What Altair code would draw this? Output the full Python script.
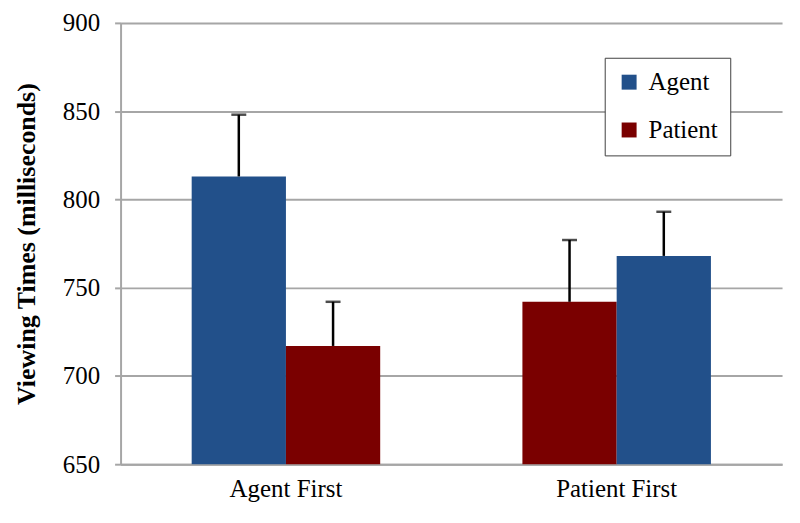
import altair as alt
import pandas as pd

groups = ["Agent First", "Agent First", "Patient First", "Patient First"]
conditions = ["Agent", "Patient", "Patient", "Agent"]
positions = [0, 1, 0, 1]
means = [813, 717, 742, 768]
uppers = [848, 742, 777, 793]
y_ticks = [650, 700, 750, 800, 850, 900]

df = pd.DataFrame({
    "group": groups,
    "cond": conditions,
    "pos": positions,
    "mean": means,
    "upper": uppers,
})

FONT = "Liberation Serif"
GRAY = "#a6a6a6"
FS = 25

x = alt.X("group:N", title=None, sort=["Agent First", "Patient First"],
          scale=alt.Scale(paddingInner=0.43, paddingOuter=0.215),
          axis=alt.Axis(labelAngle=0, ticks=False, labelFont=FONT, labelFontSize=FS))
xoff = alt.XOffset("pos:O", scale=alt.Scale(paddingInner=0, paddingOuter=0))
yscale = alt.Scale(domain=[650, 900], zero=False, nice=False)
yaxis = alt.Axis(values=y_ticks, title="Viewing Times (milliseconds)",
                 labelFont=FONT, labelFontSize=FS)

bars = alt.Chart(df).mark_bar(stroke=None, clip=True).encode(
    x=x,
    xOffset=xoff,
    y=alt.Y("mean:Q", scale=yscale, axis=yaxis),
    color=alt.Color("cond:N", title=None,
                    scale=alt.Scale(domain=["Agent", "Patient"], range=["#22508a", "#7a0000"]),
                    legend=alt.Legend(orient="none", legendX=486, legendY=35,
                                      labelFont=FONT, labelFontSize=FS)),
)

err = alt.Chart(df).mark_rule(color="black", strokeWidth=2.5).encode(
    x=x, xOffset=xoff,
    y=alt.Y("mean:Q", scale=yscale, axis=yaxis),
    y2="upper:Q",
)
caps = alt.Chart(df).mark_tick(color="black", thickness=2.5, size=15).encode(
    x=x, xOffset=xoff,
    y=alt.Y("upper:Q", scale=yscale, axis=yaxis),
)

chart = alt.layer(bars, err, caps).properties(
    width=664, height=443,
    autosize=alt.AutoSizeParams(type="none"),
    padding={"left": 113, "top": 14, "right": 10, "bottom": 40},
).configure(
    background="white", font=FONT,
).configure_view(stroke=None).configure_axis(
    labelFont=FONT, labelFontSize=FS, labelColor="black", labelPadding=15,
    tickSize=6, tickColor=GRAY, tickWidth=2,
    domainColor=GRAY, domainWidth=2,
    gridColor=GRAY, gridWidth=2,
    titleFont=FONT, titleFontSize=26, titleFontWeight="bold",
    titleColor="black", titlePadding=23,
).configure_axisX(grid=False, ticks=False, labelPadding=12).configure_legend(
    labelFont=FONT, labelFontSize=FS, labelColor="black",
    symbolType="square", symbolSize=225, symbolStrokeWidth=0,
    rowPadding=22, padding=12, labelOffset=7,
    strokeColor="#404040", fillColor="white", labelLimit=200,
)

chart.save("out.html", embed_options={"renderer": "svg", "actions": False})
